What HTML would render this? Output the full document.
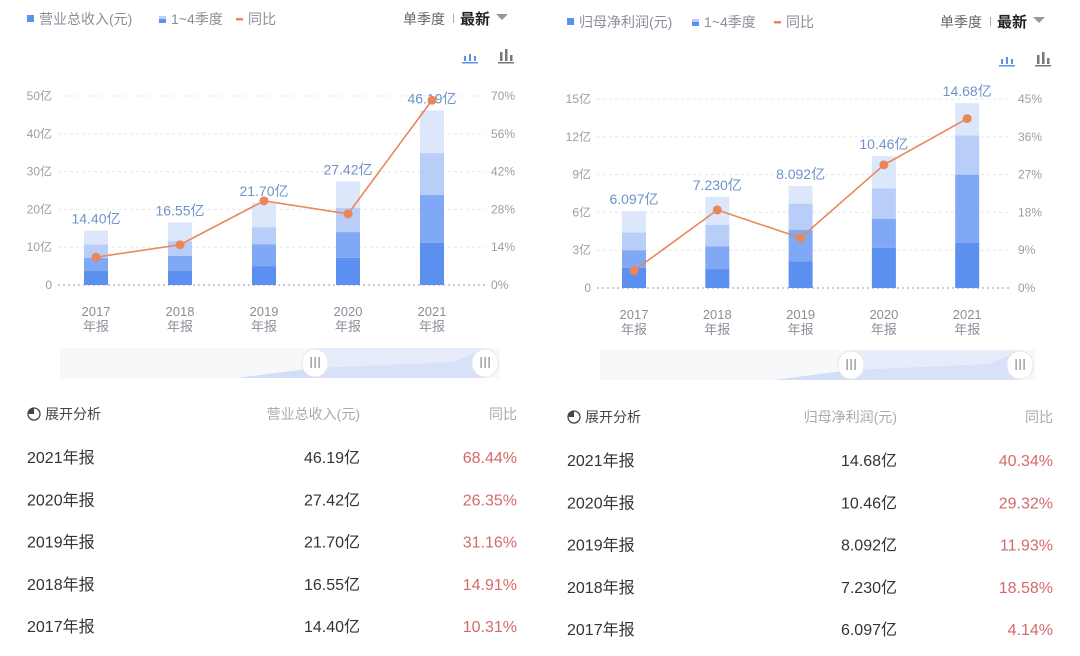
<!DOCTYPE html>
<html><head><meta charset="utf-8">
<style>
body{margin:0;background:#fff;font-family:"Liberation Sans","Noto Sans CJK SC",sans-serif;}
svg text{font-family:"Liberation Sans","Noto Sans CJK SC",sans-serif;}
</style></head>
<body>
<svg id="s" width="1080" height="651" viewBox="0 0 1080 651" xmlns="http://www.w3.org/2000/svg"></svg>
<script>
const years = ["2017","2018","2019","2020","2021"];
// Chart A: revenue (亿), cumulative quarterly Q1..Q3 and total
const revQ1 = [3.7, 3.7, 5.0, 7.2, 11.2];
const revQ2 = [7.2, 7.7, 10.8, 14.0, 23.8];
const revQ3 = [10.7, 11.6, 15.3, 20.4, 34.9];
const revTotal = [14.40, 16.55, 21.70, 27.42, 46.19];
const revYoy = [10.31, 14.91, 31.16, 26.35, 68.44];
const revTotalLabels = ["14.40亿","16.55亿","21.70亿","27.42亿","46.19亿"];
const revLeftTicks = ["0","10亿","20亿","30亿","40亿","50亿"];
const revRightTicks = ["0%","14%","28%","42%","56%","70%"];
// Chart B: net profit (亿)
const npQ1 = [1.6, 1.5, 2.1, 3.2, 3.6];
const npQ2 = [3.0, 3.3, 4.6, 5.5, 9.0];
const npQ3 = [4.4, 5.0, 6.7, 7.9, 12.1];
const npTotal = [6.097, 7.230, 8.092, 10.46, 14.68];
const npYoy = [4.14, 18.58, 11.93, 29.32, 40.34];
const npTotalLabels = ["6.097亿","7.230亿","8.092亿","10.46亿","14.68亿"];
const npLeftTicks = ["0","3亿","6亿","9亿","12亿","15亿"];
const npRightTicks = ["0%","9%","18%","27%","36%","45%"];

const NS="http://www.w3.org/2000/svg";
const svg=document.getElementById('s');
function el(tag,attrs,parent,text){const e=document.createElementNS(NS,tag);for(const k in attrs)e.setAttribute(k,attrs[k]);if(text!==undefined)e.textContent=text;(parent||svg).appendChild(e);return e;}
function txt(x,y,s,size,fill,anchor,weight,parent){return el('text',{x:x,y:y,'font-size':size,fill:fill,'text-anchor':anchor||'start','font-weight':weight||'normal'},parent,s);}

function drawChart(o){
  const g=el('g',{});
  
  
  const ox=o.ox;
  // legend
  const lg=el('g',{},g);
  
  
  el('rect',{x:ox+27,y:o.legY-9,width:7,height:7,fill:'#5b8ff0'},lg);
  txt(ox+39,o.legY,o.legTitle,14,'#8a8f99','start','normal',lg);
  el('rect',{x:ox+ o.leg2x,y:o.legY-8,width:7,height:3,fill:'#b8cdf8'},lg);
  el('rect',{x:ox+ o.leg2x,y:o.legY-5,width:7,height:4,fill:'#5b8ff0'},lg);
  txt(ox+o.leg2x+12,o.legY,'1~4季度',14,'#8a8f99','start','normal',lg);
  el('rect',{x:ox+o.leg3x,y:o.legY-6,width:7,height:2.5,fill:'#e8885a'},lg);
  txt(ox+o.leg3x+12,o.legY,'同比',14,'#8a8f99','start','normal',lg);
  const sel=el('g',{},g);
  
  
  txt(o.selX,o.legY,'单季度',14,'#666','start','normal',sel);
  el('rect',{x:o.selX+50,y:o.legY-10,width:1,height:9,fill:'#aaa'},sel);
  txt(o.selX+57,o.legY,'最新',15,'#222','start','bold',sel);
  el('path',{d:`M${o.selX+93} ${o.legY-10} l12 0 l-6 6 z`,fill:'#999'},sel);
  // chart type icons
  const i1=el('g',{},g);
  
  
  [0,5,10].forEach((d,k)=>el('rect',{x:o.iconX+d,y:o.iconY-[5,7,5][k],width:2,height:[5,7,5][k],fill:'#5b8ff0'},i1));
  el('rect',{x:o.iconX-2,y:o.iconY+1,width:16,height:1.5,fill:'#5b8ff0'},i1);
  const i2=el('g',{},g);
  
  
  [0,5,10].forEach((d,k)=>el('rect',{x:o.iconX+36+d,y:o.iconY-[9,12,6][k],width:2.5,height:[9,12,6][k],fill:'#777'},i2));
  el('rect',{x:o.iconX+34,y:o.iconY+1,width:16,height:1.5,fill:'#777'},i2);

  const y0=o.y0, y1=o.y1;
  const yL=v=>y0-(v/o.maxL)*(y0-y1);
  const yR=v=>y0-(v/o.maxR)*(y0-y1);
  const xC=i=>o.x0+i*o.step;
  // grid & ticks
  for(let k=0;k<o.leftTicks.length;k++){
    const yy=y0-k*(y0-y1)/(o.leftTicks.length-1);
    const gl=el('line',{x1:o.gx1,x2:o.gx2,y1:yy,y2:yy,stroke:k==0?'#999':'#e6e8ec','stroke-dasharray':k==0?'2,3':'3,3','stroke-width':1},g);
    
    
    const lt=txt(o.gx1-6,yy+4,o.leftTicks[k],12,'#9a9ea6','end','normal',g);
    
    
    const rt=txt(o.gx2+6,yy+4,o.rightTicks[k],12,'#9a9ea6','start','normal',g);
    
    
  }
  const cols=['#5b8ff0','#80a8f5','#b8cdf8','#dde7fb'];
  years.forEach((yr,i)=>{
    const segs=[0,o.q1[i],o.q2[i],o.q3[i],o.total[i]];
    for(let s=0;s<4;s++){
      const r=el('rect',{x:xC(i)-12,y:yL(segs[s+1]),width:24,height:yL(segs[s])-yL(segs[s+1]),fill:cols[s]},g);
      
      
    }
    const xl=el('text',{x:xC(i),y:y0+31,'font-size':13,fill:'#8a8f99','text-anchor':'middle'},g,yr);
    
    
    const xl2=el('text',{x:xC(i),y:y0+46,'font-size':13,fill:'#8a8f99','text-anchor':'middle'},g,'年报');
    
    
  });
  // line
  const pts=o.yoy.map((v,i)=>xC(i)+','+yR(v)).join(' ');
  const pl=el('polyline',{points:pts,fill:'none',stroke:'#e8885a','stroke-width':1.6},g);
  
  
  years.forEach((yr,i)=>{
    const lb=txt(xC(i),yL(o.total[i])-7,o.labels[i],14,'#6f93c8','middle','normal',g);
    
    
  });
  o.yoy.forEach((v,i)=>{
    const c=el('circle',{cx:xC(i),cy:yR(v),r:4.5,fill:'#e8885a'},g);
    
    
  });
  // slider
  const sl=el('g',{},g);
  
  
  el('rect',{x:o.sx1,y:o.sy,width:o.sx2-o.sx1,height:30,fill:'#f7f8fa'},sl);
  el('path',{d:`M${o.sx1+(o.sx2-o.sx1)*0.4} ${o.sy+30} L${o.hx1} ${o.sy+20} L${o.hx2-30} ${o.sy+14} L${o.hx2} ${o.sy} L${o.hx2} ${o.sy+30} Z`,fill:'#d2def8'},sl);
  el('rect',{x:o.hx1,y:o.sy,width:o.hx2-o.hx1,height:30,fill:'#dbe5fa',opacity:0.6},sl);
  [o.hx1,o.hx2].forEach(hx=>{
    const h=el('g',{},sl);
    
    
    el('rect',{x:hx-13,y:o.sy+1,width:26,height:28,rx:13,fill:'#fff',stroke:'#e3e6eb'},h);
    [-4,0,4].forEach(d=>el('rect',{x:hx+d-0.5,y:o.sy+9,width:1.2,height:11,fill:'#888'},h));
  });
  // table
  const tb=el('g',{},g);
  
  
  const ex=el('g',{},tb);
  
  
  el('circle',{cx:ox+34,cy:o.th-5,r:6,fill:'none',stroke:'#444','stroke-width':1.3},ex);
  el('path',{d:`M${ox+34} ${o.th-5} L${ox+34} ${o.th-11} A6 6 0 0 0 ${ox+28} ${o.th-5} Z`,fill:'#444'},ex);
  txt(ox+45,o.th,'展开分析',14,'#444','start','normal',ex);
  txt(o.vx,o.th,o.colTitle,14,'#aaa','end','normal',tb);
  txt(o.px,o.th,'同比',14,'#aaa','end','normal',tb);
  for(let r=0;r<5;r++){
    const i=4-r, yy=o.th+44+r*o.rowH;
    const row=el('g',{},tb);
    
    
    txt(ox+27,yy,years[i]+'年报',16,'#333','start','normal',row);
    txt(o.vx,yy,o.labels[i],16,'#333','end','normal',row);
    txt(o.px,yy,o.yoy[i].toFixed(2)+'%',16,'#d46a6a','end','normal',row);
  }
}
drawChart({name:'revenue-chart',ox:0,legY:24,legTitle:'营业总收入(元)',leg2x:159,leg3x:236,selX:403,iconX:464,iconY:61,
  y0:285,y1:96,maxL:50,maxR:70,x0:96,step:84,gx1:58,gx2:485,leftTicks:revLeftTicks,rightTicks:revRightTicks,
  q1:revQ1,q2:revQ2,q3:revQ3,total:revTotal,yoy:revYoy,labels:revTotalLabels,
  sx1:60,sx2:500,sy:348,hx1:315,hx2:485,th:419,rowH:42.3,vx:360,px:517,colTitle:'营业总收入(元)'});
drawChart({name:'net-profit-chart',ox:540,legY:27,legTitle:'归母净利润(元)',leg2x:152,leg3x:234,selX:940,iconX:1001,iconY:64,
  y0:288,y1:99,maxL:15,maxR:45,x0:634,step:83.3,gx1:597,gx2:1012,leftTicks:npLeftTicks,rightTicks:npRightTicks,
  q1:npQ1,q2:npQ2,q3:npQ3,total:npTotal,yoy:npYoy,labels:npTotalLabels,
  sx1:600,sx2:1035,sy:350,hx1:851,hx2:1020,th:422,rowH:42.3,vx:897,px:1053,colTitle:'归母净利润(元)'});
</script>
</body></html>
